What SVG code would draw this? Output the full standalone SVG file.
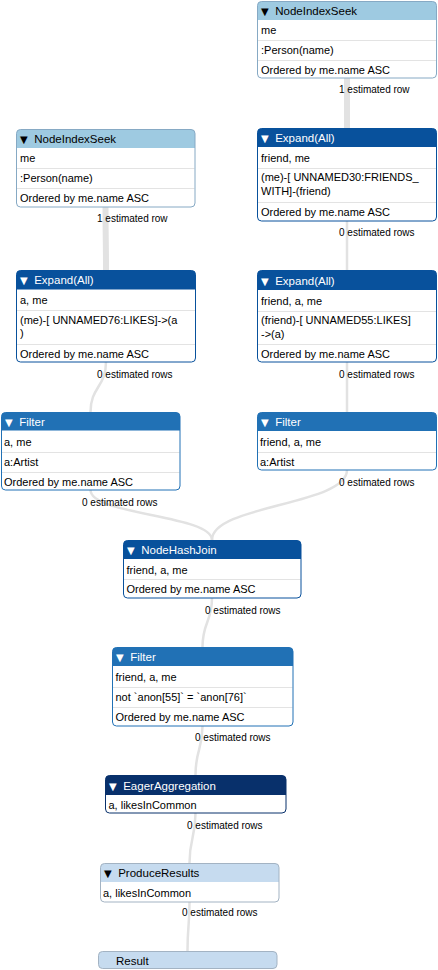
<svg xmlns="http://www.w3.org/2000/svg" width="438" height="970" viewBox="0 0 438 970">
<style>
text{font-family:"Liberation Sans",Arial,Helvetica,sans-serif;}
.tri{font-family:"DejaVu Sans",sans-serif;font-size:10px;}
.bg{fill:#ffffff;}
.hd{font-size:11.5px;}
.rw{font-size:11px;fill:#000;}
.est{font-size:10px;fill:#000;}
.sep{stroke:#e3e3e3;stroke-width:1;}
.l1 .h{fill:#9ecae1;} .l1 .b{stroke:#86a9c4;} .l1 .hd{fill:#000;}
.l0 .h{fill:#c6dbef;} .l0 .b{stroke:#a3b3c3;} .l0 .hd{fill:#000;}
.d1 .h{fill:#08519c;} .d1 .b{stroke:#08519c;} .d1 .hd{fill:#fff;}
.m1 .h{fill:#2171b5;} .m1 .b{stroke:#2171b5;} .m1 .hd{fill:#fff;}
.d2 .h{fill:#08306b;} .d2 .b{stroke:#08306b;} .d2 .hd{fill:#fff;}
.b{fill:none;stroke-width:1;}
#connectors path{fill:none;stroke:#e2e2e2;}
.thick{stroke-width:6;}
.thin{stroke-width:2.5;}
</style>
<g id="connectors">
<path class="thick" d="M347,78 L347,128"/>
<path class="thick" d="M105.5,207 C105.5,238 106,238 106,270"/>
<path class="thin" d="M347,221 L347,270"/>
<path class="thin" d="M106,362 C106,387 90.5,387 90.5,412"/>
<path class="thin" d="M347,362 L347,412"/>
<path class="thin" d="M90.5,490 C90.5,515 212,515 212,540"/>
<path class="thin" d="M347,470 C347,505 212,505 212,540"/>
<path class="thin" d="M212,598 C212,622 202.5,622 202.5,647"/>
<path class="thin" d="M202.5,726 C202.5,750 195.5,750 195.5,775"/>
<path class="thin" d="M195.5,813 C195.5,838 189.5,838 189.5,863"/>
<path class="thin" d="M189.5,902 C189.5,926 187.5,926 187.5,951"/>
<text class="est" x="339" y="93">1 estimated row</text>
<text class="est" x="97" y="222">1 estimated row</text>
<text class="est" x="339" y="236">0 estimated rows</text>
<text class="est" x="97" y="377.5">0 estimated rows</text>
<text class="est" x="339" y="377.5">0 estimated rows</text>
<text class="est" x="82" y="505.5">0 estimated rows</text>
<text class="est" x="339" y="485.5">0 estimated rows</text>
<text class="est" x="205" y="613.5">0 estimated rows</text>
<text class="est" x="195" y="740.5">0 estimated rows</text>
<text class="est" x="187" y="828.5">0 estimated rows</text>
<text class="est" x="182" y="916">0 estimated rows</text>
</g>

<g id="node-nodeindexseek-right" class="l1">
<rect class="bg" x="257.5" y="1.5" width="179" height="76.5" rx="4"/>
<path class="h" d="M257.5,20 V5.5 Q257.5,1.5 261.5,1.5 H432.5 Q436.5,1.5 436.5,5.5 V20 Z"/>
<line class="sep" x1="258" y1="40.5" x2="436" y2="40.5"/>
<line class="sep" x1="258" y1="60.5" x2="436" y2="60.5"/>
<rect class="b" x="257.5" y="1.5" width="179" height="76.5" rx="4"/>
<text class="hd" y="15"><tspan class="tri" x="261">▼</tspan><tspan x="272"> NodeIndexSeek</tspan></text>
<text class="rw" x="261" y="34">me</text>
<text class="rw" x="261" y="54">:Person(name)</text>
<text class="rw" x="261" y="73.5">Ordered by me.name ASC</text>
</g>

<g id="node-nodeindexseek-left" class="l1">
<rect class="bg" x="16.5" y="129.5" width="178.5" height="77.5" rx="4"/>
<path class="h" d="M16.5,148 V133.5 Q16.5,129.5 20.5,129.5 H191 Q195,129.5 195,133.5 V148 Z"/>
<line class="sep" x1="17" y1="168.5" x2="194.5" y2="168.5"/>
<line class="sep" x1="17" y1="188.5" x2="194.5" y2="188.5"/>
<rect class="b" x="16.5" y="129.5" width="178.5" height="77.5" rx="4"/>
<text class="hd" y="143"><tspan class="tri" x="20">▼</tspan><tspan x="31"> NodeIndexSeek</tspan></text>
<text class="rw" x="20" y="162">me</text>
<text class="rw" x="20" y="182">:Person(name)</text>
<text class="rw" x="20" y="202">Ordered by me.name ASC</text>
</g>

<g id="node-expand-right-1" class="d1">
<rect class="bg" x="257.5" y="128.5" width="179" height="92.5" rx="4"/>
<path class="h" d="M257.5,147 V132.5 Q257.5,128.5 261.5,128.5 H432.5 Q436.5,128.5 436.5,132.5 V147 Z"/>
<line class="sep" x1="258" y1="168.5" x2="436" y2="168.5"/>
<line class="sep" x1="258" y1="202.5" x2="436" y2="202.5"/>
<rect class="b" x="257.5" y="128.5" width="179" height="92.5" rx="4"/>
<text class="hd" y="142"><tspan class="tri" x="261">▼</tspan><tspan x="272"> Expand(All)</tspan></text>
<text class="rw" x="261" y="162">friend, me</text>
<text class="rw" x="261" y="181">(me)-[ UNNAMED30:FRIENDS_</text>
<text class="rw" x="261" y="194.5">WITH]-(friend)</text>
<text class="rw" x="261" y="216">Ordered by me.name ASC</text>
</g>

<g id="node-expand-left" class="d1">
<rect class="bg" x="16.5" y="270.5" width="179" height="91.5" rx="4"/>
<path class="h" d="M16.5,289.5 V274.5 Q16.5,270.5 20.5,270.5 H191.5 Q195.5,270.5 195.5,274.5 V289.5 Z"/>
<line class="sep" x1="17" y1="310.5" x2="195" y2="310.5"/>
<line class="sep" x1="17" y1="344.5" x2="195" y2="344.5"/>
<rect class="b" x="16.5" y="270.5" width="179" height="91.5" rx="4"/>
<text class="hd" y="284"><tspan class="tri" x="20">▼</tspan><tspan x="31"> Expand(All)</tspan></text>
<text class="rw" x="20" y="304">a, me</text>
<text class="rw" x="20" y="323.5">(me)-[ UNNAMED76:LIKES]-&gt;(a</text>
<text class="rw" x="20" y="337">)</text>
<text class="rw" x="20" y="357.5">Ordered by me.name ASC</text>
</g>

<g id="node-expand-right-2" class="d1">
<rect class="bg" x="257.5" y="270.5" width="179" height="91.5" rx="4"/>
<path class="h" d="M257.5,290 V274.5 Q257.5,270.5 261.5,270.5 H432.5 Q436.5,270.5 436.5,274.5 V290 Z"/>
<line class="sep" x1="258" y1="311.5" x2="436" y2="311.5"/>
<line class="sep" x1="258" y1="344.5" x2="436" y2="344.5"/>
<rect class="b" x="257.5" y="270.5" width="179" height="91.5" rx="4"/>
<text class="hd" y="284.5"><tspan class="tri" x="261">▼</tspan><tspan x="272"> Expand(All)</tspan></text>
<text class="rw" x="261" y="305">friend, a, me</text>
<text class="rw" x="261" y="324">(friend)-[ UNNAMED55:LIKES]</text>
<text class="rw" x="261" y="337.5">-&gt;(a)</text>
<text class="rw" x="261" y="357.5">Ordered by me.name ASC</text>
</g>

<g id="node-filter-left" class="m1">
<rect class="bg" x="1.5" y="412.5" width="178.5" height="77.5" rx="4"/>
<path class="h" d="M1.5,430.5 V416.5 Q1.5,412.5 5.5,412.5 H176 Q180,412.5 180,416.5 V430.5 Z"/>
<line class="sep" x1="2" y1="452.5" x2="179.5" y2="452.5"/>
<line class="sep" x1="2" y1="472.5" x2="179.5" y2="472.5"/>
<rect class="b" x="1.5" y="412.5" width="178.5" height="77.5" rx="4"/>
<text class="hd" y="425.5"><tspan class="tri" x="5">▼</tspan><tspan x="16"> Filter</tspan></text>
<text class="rw" x="4" y="445.5">a, me</text>
<text class="rw" x="4" y="465.5">a:Artist</text>
<text class="rw" x="4" y="485.5">Ordered by me.name ASC</text>
</g>

<g id="node-filter-right" class="m1">
<rect class="bg" x="257.5" y="412.5" width="179" height="57.5" rx="4"/>
<path class="h" d="M257.5,431 V416.5 Q257.5,412.5 261.5,412.5 H432.5 Q436.5,412.5 436.5,416.5 V431 Z"/>
<line class="sep" x1="258" y1="452.5" x2="436" y2="452.5"/>
<rect class="b" x="257.5" y="412.5" width="179" height="57.5" rx="4"/>
<text class="hd" y="426"><tspan class="tri" x="261">▼</tspan><tspan x="272"> Filter</tspan></text>
<text class="rw" x="260" y="446">friend, a, me</text>
<text class="rw" x="260" y="465.5">a:Artist</text>
</g>

<g id="node-nodehashjoin" class="d1">
<rect class="bg" x="123.5" y="540.5" width="177.5" height="57.5" rx="4"/>
<path class="h" d="M123.5,559 V544.5 Q123.5,540.5 127.5,540.5 H297 Q301,540.5 301,544.5 V559 Z"/>
<line class="sep" x1="124" y1="579.5" x2="300.5" y2="579.5"/>
<rect class="b" x="123.5" y="540.5" width="177.5" height="57.5" rx="4"/>
<text class="hd" y="554"><tspan class="tri" x="127">▼</tspan><tspan x="138"> NodeHashJoin</tspan></text>
<text class="rw" x="126.5" y="573.5">friend, a, me</text>
<text class="rw" x="126.5" y="593">Ordered by me.name ASC</text>
</g>

<g id="node-filter-bottom" class="m1">
<rect class="bg" x="112.5" y="647.5" width="180.5" height="78.5" rx="4"/>
<path class="h" d="M112.5,666 V651.5 Q112.5,647.5 116.5,647.5 H289 Q293,647.5 293,651.5 V666 Z"/>
<line class="sep" x1="113" y1="687.5" x2="292.5" y2="687.5"/>
<line class="sep" x1="113" y1="707.5" x2="292.5" y2="707.5"/>
<rect class="b" x="112.5" y="647.5" width="180.5" height="78.5" rx="4"/>
<text class="hd" y="661"><tspan class="tri" x="116">▼</tspan><tspan x="127"> Filter</tspan></text>
<text class="rw" x="115.5" y="681">friend, a, me</text>
<text class="rw" x="115.5" y="701">not `anon[55]` = `anon[76]`</text>
<text class="rw" x="115.5" y="721">Ordered by me.name ASC</text>
</g>

<g id="node-eageraggregation" class="d2">
<rect class="bg" x="105.5" y="775.5" width="180.5" height="37.5" rx="4"/>
<path class="h" d="M105.5,795 V779.5 Q105.5,775.5 109.5,775.5 H282 Q286,775.5 286,779.5 V795 Z"/>
<rect class="b" x="105.5" y="775.5" width="180.5" height="37.5" rx="4"/>
<text class="hd" y="789.5"><tspan class="tri" x="109">▼</tspan><tspan x="120"> EagerAggregation</tspan></text>
<text class="rw" x="108.5" y="808.5">a, likesInCommon</text>
</g>

<g id="node-produceresults" class="l0">
<rect class="bg" x="100.5" y="863.5" width="178.5" height="38.5" rx="4"/>
<path class="h" d="M100.5,882 V867.5 Q100.5,863.5 104.5,863.5 H275 Q279,863.5 279,867.5 V882 Z"/>
<rect class="b" x="100.5" y="863.5" width="178.5" height="38.5" rx="4"/>
<text class="hd" y="877"><tspan class="tri" x="104">▼</tspan><tspan x="115"> ProduceResults</tspan></text>
<text class="rw" x="103" y="896.5">a, likesInCommon</text>
</g>

<g id="node-result" class="l0">
<rect class="h" x="98.5" y="951.5" width="178.5" height="17" rx="4"/>
<rect class="b" x="98.5" y="951.5" width="178.5" height="17" rx="4"/>
<text class="hd" x="116" y="964.5">Result</text>
</g>
</svg>
